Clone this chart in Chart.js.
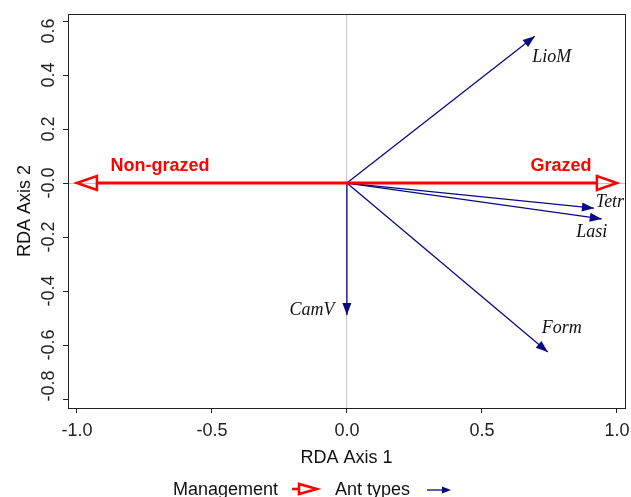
<!DOCTYPE html>
<html>
<head>
<meta charset="utf-8">
<script src="https://cdn.jsdelivr.net/npm/chart.js@4/dist/chart.umd.min.js"></script>
<style>
  html, body { margin: 0; padding: 0; background: #ffffff; }
  #wrap { width: 631px; height: 497px; }
</style>
</head>
<body>
<div id="wrap"><canvas id="c" width="631" height="497"></canvas></div>
<script>
// ---- data ----
const antTypes = ['LioM', 'Tetr', 'Lasi', 'CamV', 'Form'];
const antAxis1 = [0.696, 0.915, 0.944, 0.0, 0.744];
const antAxis2 = [0.544, -0.093, -0.133, -0.489, -0.626];

const management = ['Grazed', 'Non-grazed'];
const mgmtAxis1 = [1.0, -1.0];
const mgmtAxis2 = [0.0, 0.0];

const xTicks = [-1.0, -0.5, 0.0, 0.5, 1.0];
const xTickLabels = ['-1.0', '-0.5', '0.0', '0.5', '1.0'];
const yTicks = [0.6, 0.4, 0.2, 0.0, -0.2, -0.4, -0.6, -0.8];
const yTickLabels = ['0.6', '0.4', '0.2', '-0.0', '-0.2', '-0.4', '-0.6', '-0.8'];

const xTitle = 'RDA Axis 1';
const yTitle = 'RDA Axis 2';
const legendNames = ['Management', 'Ant types'];

// ---- styles ----
const SANS = "'Liberation Sans', Arial, sans-serif";
const SERIF = "'Liberation Serif', 'Times New Roman', serif";
const RED = '#ff0000';
const NAVY = '#0a0a80';
const AXIS = '#222222';

// label offsets (pixels from the arrow tip)
const labelOffsets = {
  'LioM': [17, 21], 'Tetr': [16, -6], 'Lasi': [-10, 13], 'CamV': [-35, -5], 'Form': [14, -24],
  'Grazed': [-56, -17], 'Non-grazed': [83, -17]
};
// end labels of y axis are nudged inwards in the reference
const yLabelShift = { '0.6': 10, '-0.8': -13 };

const datasets = [];
antTypes.forEach((n, i) => {
  datasets.push({
    label: n, kind: 'ant',
    data: [{ x: 0, y: 0 }, { x: antAxis1[i], y: antAxis2[i] }],
    showLine: true, borderColor: NAVY, borderWidth: 1.3,
    pointRadius: 0, pointHoverRadius: 0
  });
});
management.forEach((n, i) => {
  datasets.push({
    label: n, kind: 'mgmt',
    data: [{ x: 0, y: 0 }, { x: mgmtAxis1[i], y: mgmtAxis2[i] }],
    showLine: false, borderColor: RED, borderWidth: 0,
    pointRadius: 0, pointHoverRadius: 0
  });
});

function headPts(x0, y0, x1, y1, len, half) {
  const a = Math.atan2(y1 - y0, x1 - x0);
  const bx = x1 - len * Math.cos(a), by = y1 - len * Math.sin(a);
  const px = -Math.sin(a) * half, py = Math.cos(a) * half;
  return { bx, by, p1: [bx + px, by + py], p2: [bx - px, by - py] };
}

const arrowPlugin = {
  id: 'arrows',
  afterDatasetsDraw(chart) {
    const ctx = chart.ctx;
    const ca = chart.chartArea;
    ctx.save();
    ctx.beginPath();
    ctx.rect(ca.left, ca.top, ca.right - ca.left, ca.bottom - ca.top);
    ctx.clip();
    chart.data.datasets.forEach((ds, i) => {
      const meta = chart.getDatasetMeta(i);
      const o = meta.data[0], t = meta.data[1];
      if (ds.kind === 'ant') {
        const h = headPts(o.x, o.y, t.x, t.y, 12, 4.5);
        ctx.fillStyle = NAVY;
        ctx.beginPath();
        ctx.moveTo(t.x, t.y); ctx.lineTo(h.p1[0], h.p1[1]); ctx.lineTo(h.p2[0], h.p2[1]);
        ctx.closePath(); ctx.fill();
        ctx.font = 'italic 18px ' + SERIF;
        ctx.fillStyle = '#111';
      } else {
        const h = headPts(o.x, o.y, t.x, t.y, 20, 7);
        ctx.strokeStyle = RED;
        ctx.lineWidth = 3;
        ctx.beginPath(); ctx.moveTo(o.x, o.y); ctx.lineTo(h.bx, h.by); ctx.stroke();
        ctx.lineWidth = 2.5;
        ctx.lineJoin = 'miter';
        ctx.beginPath();
        ctx.moveTo(t.x, t.y); ctx.lineTo(h.p1[0], h.p1[1]); ctx.lineTo(h.p2[0], h.p2[1]);
        ctx.closePath(); ctx.stroke();
        ctx.font = 'bold 18px ' + SANS;
        ctx.fillStyle = RED;
      }
      const off = labelOffsets[ds.label] || [0, 0];
      ctx.textAlign = 'center';
      ctx.textBaseline = 'middle';
      ctx.fillText(ds.label, t.x + off[0], t.y + off[1]);
    });
    ctx.restore();
  },
  afterDraw(chart) {
    const ctx = chart.ctx;
    const ca = chart.chartArea;
    ctx.save();
    // plot box
    ctx.strokeStyle = AXIS;
    ctx.lineWidth = 1;
    ctx.strokeRect(Math.round(ca.left) + 0.5, Math.round(ca.top) + 0.5,
                   Math.round(ca.right - ca.left), Math.round(ca.bottom - ca.top));
    // y tick labels (rotated, as in R)
    const ys = chart.scales.y;
    ctx.font = '18px ' + SANS;
    ctx.fillStyle = AXIS;
    ctx.textAlign = 'center';
    ctx.textBaseline = 'middle';
    yTicks.forEach((v, i) => {
      const lab = yTickLabels[i];
      const py = ys.getPixelForValue(v) + (yLabelShift[lab] || 0);
      ctx.save();
      ctx.translate(49, py);
      ctx.rotate(-Math.PI / 2);
      ctx.fillText(lab, 0, 0);
      ctx.restore();
    });
    // bottom legend
    const ly = 490;
    ctx.font = '18px ' + SANS;
    ctx.fillStyle = '#111';
    ctx.textAlign = 'left';
    ctx.fillText(legendNames[0], 173, ly);
    ctx.strokeStyle = RED;
    ctx.lineWidth = 2.5;
    ctx.beginPath(); ctx.moveTo(292, ly - 1); ctx.lineTo(299, ly - 1); ctx.stroke();
    ctx.beginPath(); ctx.moveTo(317, ly - 1); ctx.lineTo(299, ly - 6); ctx.lineTo(299, ly + 4); ctx.closePath(); ctx.stroke();
    ctx.fillText(legendNames[1], 335, ly);
    ctx.strokeStyle = NAVY;
    ctx.fillStyle = NAVY;
    ctx.lineWidth = 1.3;
    ctx.beginPath(); ctx.moveTo(427, ly); ctx.lineTo(444, ly); ctx.stroke();
    ctx.beginPath(); ctx.moveTo(451, ly); ctx.lineTo(442, ly - 3.5); ctx.lineTo(442, ly + 3.5); ctx.closePath(); ctx.fill();
    ctx.restore();
  }
};

const zeroGrid = (c) => (c.tick && Math.abs(c.tick.value) < 1e-9) ? '#c4c4c4' : 'rgba(0,0,0,0)';

new Chart(document.getElementById('c'), {
  type: 'scatter',
  data: { datasets },
  options: {
    responsive: false,
    animation: false,
    events: [],
    layout: { padding: { top: 14, right: 6, left: 0, bottom: 0 } },
    plugins: { legend: { display: false }, tooltip: { enabled: false } },
    scales: {
      x: {
        type: 'linear', min: -1.033, max: 1.03,
        afterFit: (s) => { s.height = 89; s.paddingLeft = 0; s.paddingRight = 0; },
        afterBuildTicks: (s) => { s.ticks = xTicks.map(v => ({ value: v })); },
        ticks: {
          callback: (v, i) => xTickLabels[i],
          font: { family: SANS, size: 18 }, color: AXIS, padding: 7,
          maxRotation: 0, minRotation: 0, autoSkip: false
        },
        grid: { color: zeroGrid, tickColor: AXIS, tickLength: 5, lineWidth: 1 },
        border: { display: true, color: AXIS, width: 1 },
        title: { display: true, text: xTitle, font: { family: SANS, size: 18 }, color: '#111', padding: { top: 0, bottom: 28 } }
      },
      y: {
        type: 'linear', min: -0.833, max: 0.626,
        afterFit: (s) => { s.width = 68; s.paddingTop = 0; s.paddingBottom = 0; },
        afterBuildTicks: (s) => { s.ticks = yTicks.map(v => ({ value: v })); },
        ticks: { display: false },
        grid: { color: zeroGrid, tickColor: AXIS, tickLength: 5, lineWidth: 1 },
        border: { display: true, color: AXIS, width: 1 },
        title: { display: true, text: yTitle, font: { family: SANS, size: 18 }, color: '#111', padding: { top: 14, bottom: 0 } }
      }
    }
  },
  plugins: [arrowPlugin]
});
</script>
</body>
</html>
